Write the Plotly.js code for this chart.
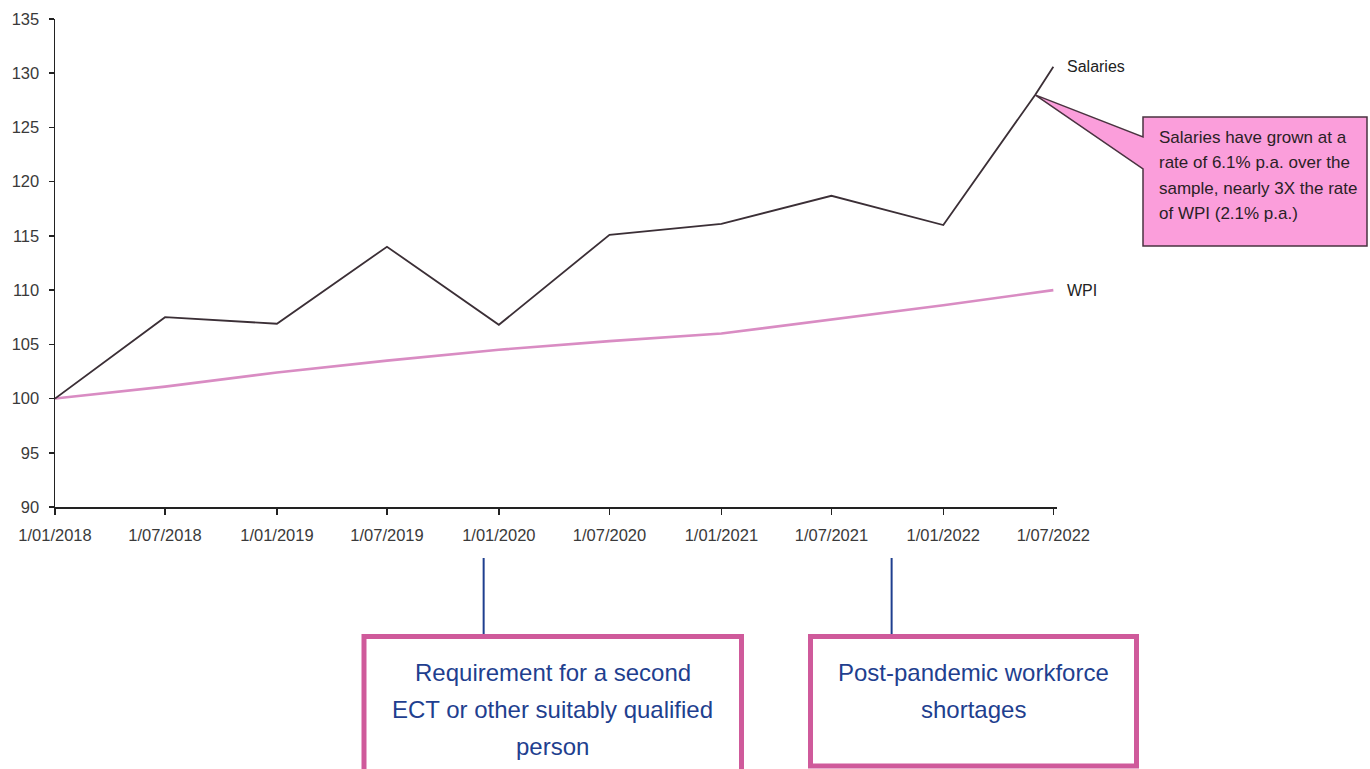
<!DOCTYPE html>
<html>
<head>
<meta charset="utf-8">
<script src="https://cdn.plot.ly/plotly-3.0.1.min.js"></script>
<style>
  html, body { margin: 0; padding: 0; background: #ffffff; }
  #chart { width: 1370px; height: 769px; }
</style>
</head>
<body>
<div id="chart"></div>
<script>
// Index values (1 Jan 2018 = 100)
const salaryDates = ['2018-01-01', '2018-07-01', '2019-01-01', '2019-07-01', '2020-01-01',
                     '2020-07-01', '2021-01-01', '2021-07-01', '2022-01-01', '2022-06-01', '2022-07-01'];
const salaryIndex = [100, 107.5, 106.9, 114.0, 106.8, 115.1, 116.1, 118.7, 116.0, 128.0, 130.6];

const wpiDates = ['2018-01-01', '2018-07-01', '2019-01-01', '2019-07-01', '2020-01-01',
                  '2020-07-01', '2021-01-01', '2021-07-01', '2022-01-01', '2022-07-01'];
const wpiIndex = [100, 101.1, 102.4, 103.5, 104.5, 105.3, 106.0, 107.3, 108.6, 110.0];

const tickDates = ['2018-01-01', '2018-07-01', '2019-01-01', '2019-07-01', '2020-01-01',
                   '2020-07-01', '2021-01-01', '2021-07-01', '2022-01-01', '2022-07-01'];
const tickLabels = ['1/01/2018', '1/07/2018', '1/01/2019', '1/07/2019', '1/01/2020',
                    '1/07/2020', '1/01/2021', '1/07/2021', '1/01/2022', '1/07/2022'];

const calloutLines = ['Salaries have grown at a', 'rate of 6.1% p.a. over the',
                      'sample, nearly 3X the rate', 'of WPI (2.1% p.a.)'];
const calloutPoint = 9; // salary observation the callout points at

const eventDates = ['2019-12-07', '2021-10-08'];
const eventLines = [
  ['Requirement for a second', 'ECT or other suitably qualified', 'person'],
  ['Post-pandemic workforce', 'shortages']
];

// ---- geometry of the plotting area (pixels) ----
const W = 1370, H = 769;
const L = 55, R = 1057, T = 19, B = 507;
const xRange = ['2018-01-01', '2022-07-07'];
const yRange = [90, 135];

const px = x => (x - L) / (R - L);          // pixel x -> paper
const py = y => (B - y) / (B - T);          // pixel y -> paper
const t0 = Date.parse(xRange[0]), t1 = Date.parse(xRange[1]);
const dateToPaper = d => (Date.parse(d) - t0) / (t1 - t0);
const valToPaper = v => (v - yRange[0]) / (yRange[1] - yRange[0]);

const SANS = 'Liberation Sans, Arial, sans-serif';

const traces = [
  {
    x: wpiDates, y: wpiIndex, type: 'scatter', mode: 'lines', name: 'WPI',
    line: { color: '#d98cc3', width: 2.6 }, hoverinfo: 'skip'
  },
  {
    x: salaryDates, y: salaryIndex, type: 'scatter', mode: 'lines', name: 'Salaries',
    line: { color: '#3b2f36', width: 1.8 }, hoverinfo: 'skip'
  }
];

// Callout with pointer to the June 2022 salary observation
const tipX = dateToPaper(salaryDates[calloutPoint]);
const tipY = valToPaper(salaryIndex[calloutPoint]);
const bx0 = px(1143), bx1 = px(1367), by0 = py(117), by1 = py(246);
const calloutPath = `M ${bx0} ${by0} L ${bx1} ${by0} L ${bx1} ${by1} L ${bx0} ${by1} ` +
                    `L ${bx0} ${py(169)} L ${tipX} ${tipY} L ${bx0} ${py(137)} Z`;

const shapes = [
  {
    type: 'path', xref: 'paper', yref: 'paper', path: calloutPath,
    fillcolor: '#fb9edb', line: { color: '#4a3340', width: 1.5 }, layer: 'above'
  }
];

const annotations = [
  {
    x: salaryDates[salaryDates.length - 1], y: salaryIndex[salaryIndex.length - 1],
    xref: 'x', yref: 'y', text: 'Salaries', showarrow: false,
    xanchor: 'left', yanchor: 'middle', xshift: 12,
    font: { family: SANS, size: 16, color: '#222222' }
  },
  {
    x: wpiDates[wpiDates.length - 1], y: wpiIndex[wpiIndex.length - 1],
    xref: 'x', yref: 'y', text: 'WPI', showarrow: false,
    xanchor: 'left', yanchor: 'middle', xshift: 12,
    font: { family: SANS, size: 16, color: '#222222' }
  }
];

calloutLines.forEach((line, i) => {
  annotations.push({
    x: px(1157), y: py(137.5 + i * 25.3), xref: 'paper', yref: 'paper',
    text: line, showarrow: false, xanchor: 'left', yanchor: 'middle',
    font: { family: SANS, size: 17, color: '#2a1f26' }
  });
});

// Event boxes below the axis, each linked to its date by a connector
const eventBoxes = [
  { x0: 364, x1: 741.5, y0: 636.5, y1: 800 },
  { x0: 810.5, x1: 1136.5, y0: 636.5, y1: 766 }
];
eventDates.forEach((d, i) => {
  const box = eventBoxes[i];
  const xd = dateToPaper(d);
  shapes.push({
    type: 'line', xref: 'paper', yref: 'paper',
    x0: xd, x1: xd, y0: py(558), y1: py(634),
    line: { color: '#1f3f8f', width: 2 }
  });
  shapes.push({
    type: 'rect', xref: 'paper', yref: 'paper',
    x0: px(box.x0), x1: px(box.x1), y0: py(box.y0), y1: py(box.y1),
    line: { color: '#cf5a9b', width: 5 }, fillcolor: 'rgba(0,0,0,0)'
  });
  const cx = (box.x0 + box.x1) / 2;
  eventLines[i].forEach((line, j) => {
    annotations.push({
      x: px(cx), y: py(672.5 + j * 37.2), xref: 'paper', yref: 'paper',
      text: line, showarrow: false, xanchor: 'center', yanchor: 'middle',
      font: { family: SANS, size: 24, color: '#1f3f8f' }
    });
  });
});

const layout = {
  width: W, height: H,
  margin: { l: L, r: W - R, t: T, b: H - B, pad: 0 },
  paper_bgcolor: '#ffffff', plot_bgcolor: '#ffffff',
  showlegend: false,
  xaxis: {
    type: 'date', range: xRange,
    tickmode: 'array', tickvals: tickDates, ticktext: tickLabels,
    ticks: 'outside', ticklen: 6, tickwidth: 1.5, tickcolor: '#222222',
    showline: true, linecolor: '#222222', linewidth: 1.5,
    showgrid: false, zeroline: false, fixedrange: true,
    ticklabelstandoff: 7,
    tickfont: { family: SANS, size: 16.5, color: '#3a3a3a' }
  },
  yaxis: {
    range: yRange, tickmode: 'linear', tick0: 90, dtick: 5,
    ticks: 'outside', ticklen: 5, tickwidth: 1.5, tickcolor: '#222222',
    showline: true, linecolor: '#222222', linewidth: 1.5,
    showgrid: false, zeroline: false, fixedrange: true,
    ticklabelstandoff: 6,
    tickfont: { family: SANS, size: 16.5, color: '#3a3a3a' }
  },
  shapes: shapes,
  annotations: annotations
};

Plotly.newPlot('chart', traces, layout, { displayModeBar: false, staticPlot: true });
</script>
</body>
</html>
